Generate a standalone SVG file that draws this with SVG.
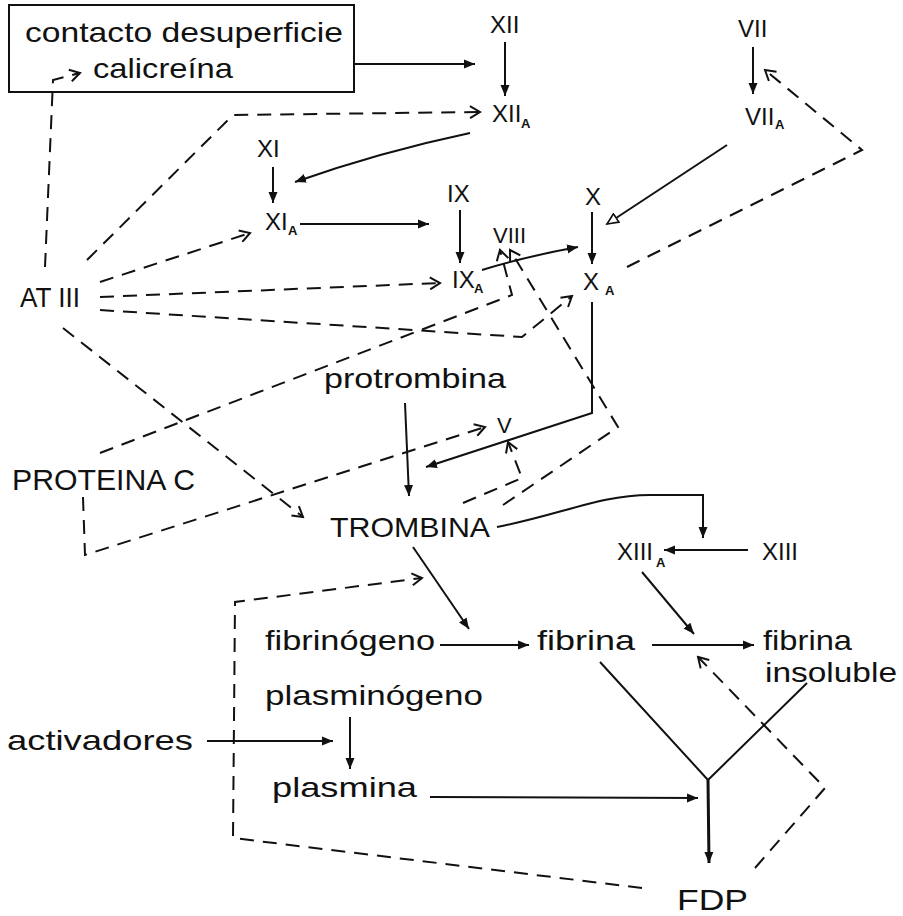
<svg xmlns="http://www.w3.org/2000/svg" width="903" height="916" viewBox="0 0 903 916">
<style>
  text { font-family: "Liberation Sans", Arial, sans-serif; fill: #111; }
  .w { font-size: 28px; }
  .r { font-size: 24px; }
  .s { font-size: 13px; font-weight: bold; }
  .ln { fill: none; stroke: #111; stroke-width: 2; stroke-linejoin: miter; }
  .sol { marker-end: url(#fa); }
  .dsh { stroke-dasharray: 14 9; marker-end: url(#oa); }
</style>
<defs>
  <marker id="fa" markerUnits="userSpaceOnUse" markerWidth="12" markerHeight="10" refX="11" refY="5" orient="auto">
    <path d="M0,0.5 L11,5 L0,9.5 z" fill="#111" stroke="none"/>
  </marker>
  <marker id="oa" markerUnits="userSpaceOnUse" markerWidth="14" markerHeight="14" refX="12" refY="7" orient="auto">
    <path d="M2,1 L12,7 L2,13" fill="none" stroke="#111" stroke-width="2" stroke-dasharray="none"/>
  </marker>
  <marker id="ha" markerUnits="userSpaceOnUse" markerWidth="14" markerHeight="12" refX="12" refY="6" orient="auto">
    <path d="M1,1 L12,6 L1,11 z" fill="#fff" stroke="#111" stroke-width="1.6" stroke-dasharray="none"/>
  </marker>
</defs>
<rect width="903" height="916" fill="#fff"/>

<g id="contacto">
  <rect x="9" y="5" width="345" height="87" fill="none" stroke="#111" stroke-width="2"/>
  <text class="w" x="25" y="42" textLength="318" lengthAdjust="spacingAndGlyphs">contacto desuperficie</text>
  <text class="w" x="93" y="78" textLength="140" lengthAdjust="spacingAndGlyphs">calicreína</text>
</g>
<g id="XII"><text class="r" x="490" y="33">XII</text></g>
<g id="XIIa"><text class="r" x="492" y="122">XII</text><text class="s" x="521" y="128">A</text></g>
<g id="XI"><text class="r" x="257" y="157">XI</text></g>
<g id="XIa"><text class="r" x="265" y="230">XI</text><text class="s" x="288" y="235">A</text></g>
<g id="IX"><text class="r" x="447" y="202">IX</text></g>
<g id="IXa"><text class="r" x="452" y="288">IX</text><text class="s" x="474" y="293">A</text></g>
<g id="VIII"><text class="r" x="493" y="243" style="font-size:22px">VIII</text></g>
<g id="X"><text class="r" x="585" y="205">X</text></g>
<g id="Xa"><text class="r" x="583" y="290">X</text><text class="s" x="605" y="295">A</text></g>
<g id="VII"><text class="r" x="738" y="37">VII</text></g>
<g id="VIIa"><text class="r" x="745" y="125">VII</text><text class="s" x="775" y="129">A</text></g>
<g id="ATIII"><text class="w" x="20" y="307" textLength="60" lengthAdjust="spacingAndGlyphs">AT III</text></g>
<g id="proteinaC"><text x="12" y="490" style="font-size:30px" textLength="183" lengthAdjust="spacingAndGlyphs">PROTEINA C</text></g>
<g id="protrombina"><text class="w" x="324" y="388" textLength="182" lengthAdjust="spacingAndGlyphs">protrombina</text></g>
<g id="V"><text class="r" x="497" y="433" style="font-size:22px">V</text></g>
<g id="trombina"><text class="w" x="330" y="537" textLength="160" lengthAdjust="spacingAndGlyphs">TROMBINA</text></g>
<g id="XIIIa"><text class="r" x="617" y="560">XIII</text><text class="s" x="656" y="567">A</text></g>
<g id="XIII"><text class="r" x="762" y="560">XIII</text></g>
<g id="fibrinogeno"><text class="w" x="265" y="650" textLength="170" lengthAdjust="spacingAndGlyphs">fibrinógeno</text></g>
<g id="fibrina"><text class="w" x="537" y="650" textLength="98" lengthAdjust="spacingAndGlyphs">fibrina</text></g>
<g id="fibrinaInsoluble">
  <text class="w" x="763" y="650" textLength="89" lengthAdjust="spacingAndGlyphs">fibrina</text>
  <text class="w" x="765" y="682" textLength="132" lengthAdjust="spacingAndGlyphs">insoluble</text>
</g>
<g id="plasminogeno"><text class="w" x="265" y="705" textLength="218" lengthAdjust="spacingAndGlyphs">plasminógeno</text></g>
<g id="activadores"><text class="w" x="7" y="750" textLength="186" lengthAdjust="spacingAndGlyphs">activadores</text></g>
<g id="plasmina"><text class="w" x="272" y="797" textLength="145" lengthAdjust="spacingAndGlyphs">plasmina</text></g>
<g id="FDP"><text x="677" y="910" style="font-size:30px" textLength="71" lengthAdjust="spacingAndGlyphs">FDP</text></g>

<g id="connectors">
  <!-- solid -->
  <path class="ln sol" d="M354,64 L475,64"/>
  <path class="ln sol" d="M505,42 L505,96"/>
  <path class="ln sol" d="M470,133 Q380,152 295,182"/>
  <path class="ln sol" d="M273,167 L273,203"/>
  <path class="ln sol" d="M300,224 L429,224"/>
  <path class="ln sol" d="M460,210 L460,263"/>
  <path class="ln sol" d="M482,270 Q528,256 578,247"/>
  <path class="ln sol" d="M592,212 L592,264"/>
  <path class="ln" style="marker-end:url(#ha)" d="M727,145 L607,224"/>
  <path class="ln sol" d="M753,47 L753,94"/>
  <path class="ln sol" d="M592,302 L592,413 L426,467"/>
  <path class="ln sol" d="M405,403 L409,496"/>
  <path class="ln sol" d="M497,527 C560,515 600,495 650,495 L703,495 L703,538"/>
  <path class="ln sol" d="M748,550 L664,550"/>
  <path class="ln sol" d="M413,547 L469,629"/>
  <path class="ln sol" d="M440,645 L529,645"/>
  <path class="ln sol" d="M652,645 L754,645"/>
  <path class="ln sol" d="M642,572 L694,634"/>
  <path class="ln" d="M600,662 L708,780 L807,683"/>
  <path class="ln sol" style="stroke-width:3" d="M708,780 L709,863"/>
  <path class="ln sol" d="M430,797 L698,798"/>
  <path class="ln sol" d="M350,717 L350,769"/>
  <path class="ln sol" d="M207,741 L333,741"/>
  <!-- dashed -->
  <path class="ln dsh" d="M45,267 L53,80 L80,73"/>
  <path class="ln dsh" d="M87,260 L233,115 L480,112"/>
  <path class="ln dsh" d="M100,282 L250,233"/>
  <path class="ln dsh" d="M100,297 L440,283"/>
  <path class="ln dsh" d="M100,310 L522,337 L572,296"/>
  <path class="ln dsh" d="M63,328 L303,517"/>
  <path class="ln dsh" d="M100,453 L512,295 L500,250"/>
  <path class="ln dsh" d="M83,497 L85,555 L485,427"/>
  <path class="ln dsh" d="M627,267 L862,150 L765,70"/>
  <path class="ln dsh" d="M503,505 L618,427 L510,250"/>
  <path class="ln dsh" d="M463,503 L522,478 L508,442"/>
  <path class="ln dsh" d="M642,888 L233,838 L235,602 L422,578"/>
  <path class="ln dsh" d="M755,868 L825,788 L698,657"/>
</g>
</svg>
